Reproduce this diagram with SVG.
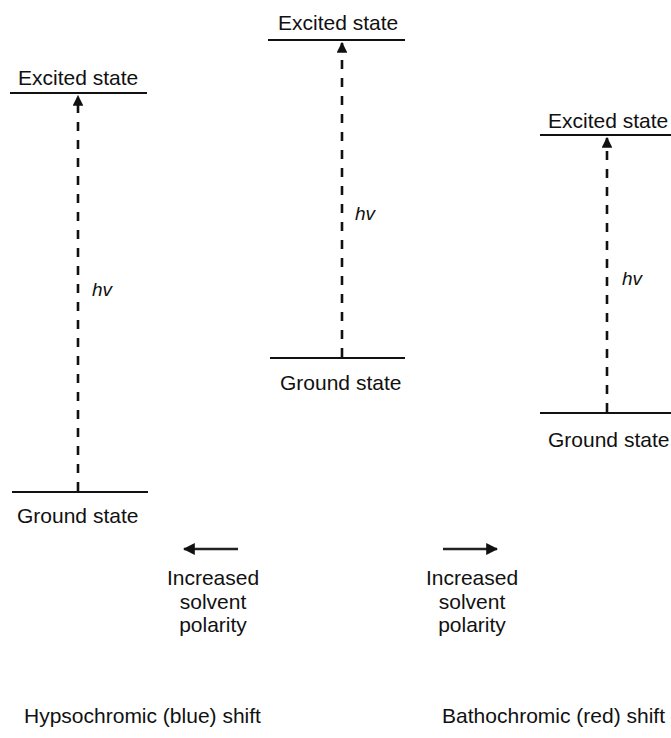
<svg xmlns="http://www.w3.org/2000/svg" width="671" height="738" viewBox="0 0 671 738">
<defs>
<style>
text{font-family:"Liberation Sans",Arial,sans-serif;font-size:21px;fill:#111}
.hv{font-style:italic;font-size:19px}
.lvl{stroke:#111;stroke-width:2.2;fill:none}
.tr{stroke:#111;stroke-width:2.6;stroke-dasharray:9 9;fill:none}
.sh{stroke:#222;stroke-width:2.4;fill:none}
</style>
<marker id="ah" viewBox="0 0 10 10" refX="9" refY="5" markerWidth="4.2" markerHeight="4.2" markerUnits="strokeWidth" orient="auto">
<path d="M0,0 L10,5 L0,10 Z" fill="#111"/>
</marker>
<marker id="ah2" viewBox="0 0 10 10" refX="9" refY="5" markerWidth="5" markerHeight="5" markerUnits="strokeWidth" orient="auto">
<path d="M0,0 L10,5 L0,10 Z" fill="#111"/>
</marker>
</defs>
<rect width="671" height="738" fill="#fff"/>
<g id="hypso-excited"><line class="lvl" x1="10" y1="93" x2="147" y2="93"/><text x="18" y="85">Excited state</text></g>
<g id="hypso-ground"><line class="lvl" x1="12" y1="492" x2="148" y2="492"/><text x="17" y="523">Ground state</text></g>
<g id="mid-excited"><line class="lvl" x1="268" y1="40" x2="405" y2="40"/><text x="278" y="30">Excited state</text></g>
<g id="mid-ground"><line class="lvl" x1="270" y1="358" x2="405" y2="358"/><text x="280" y="390">Ground state</text></g>
<g id="batho-excited"><line class="lvl" x1="540" y1="135" x2="671" y2="135"/><text x="548" y="128">Excited state</text></g>
<g id="batho-ground"><line class="lvl" x1="540" y1="413" x2="671" y2="413"/><text x="548" y="447">Ground state</text></g>
<g id="connectors">
<line class="tr" x1="78" y1="491" x2="78" y2="96" marker-end="url(#ah)"/>
<line class="tr" x1="342" y1="357" x2="342" y2="43" marker-end="url(#ah)"/>
<line class="tr" x1="607" y1="412" x2="607" y2="138" marker-end="url(#ah)"/>
<line class="sh" x1="238" y1="549" x2="184" y2="549" marker-end="url(#ah2)"/>
<line class="sh" x1="443" y1="549" x2="497" y2="549" marker-end="url(#ah2)"/>
</g>
<g id="hv-labels">
<text class="hv" x="92" y="296">hv</text>
<text class="hv" x="355" y="220">hv</text>
<text class="hv" x="622" y="285">hv</text>
</g>
<g id="polarity-left" text-anchor="middle">
<text x="213" y="585">Increased</text><text x="213" y="609">solvent</text><text x="213" y="632">polarity</text>
</g>
<g id="polarity-right" text-anchor="middle">
<text x="472" y="585">Increased</text><text x="472" y="609">solvent</text><text x="472" y="632">polarity</text>
</g>
<g id="captions">
<text x="24" y="723">Hypsochromic (blue) shift</text>
<text x="665" y="723" text-anchor="end">Bathochromic (red) shift</text>
</g>
</svg>
